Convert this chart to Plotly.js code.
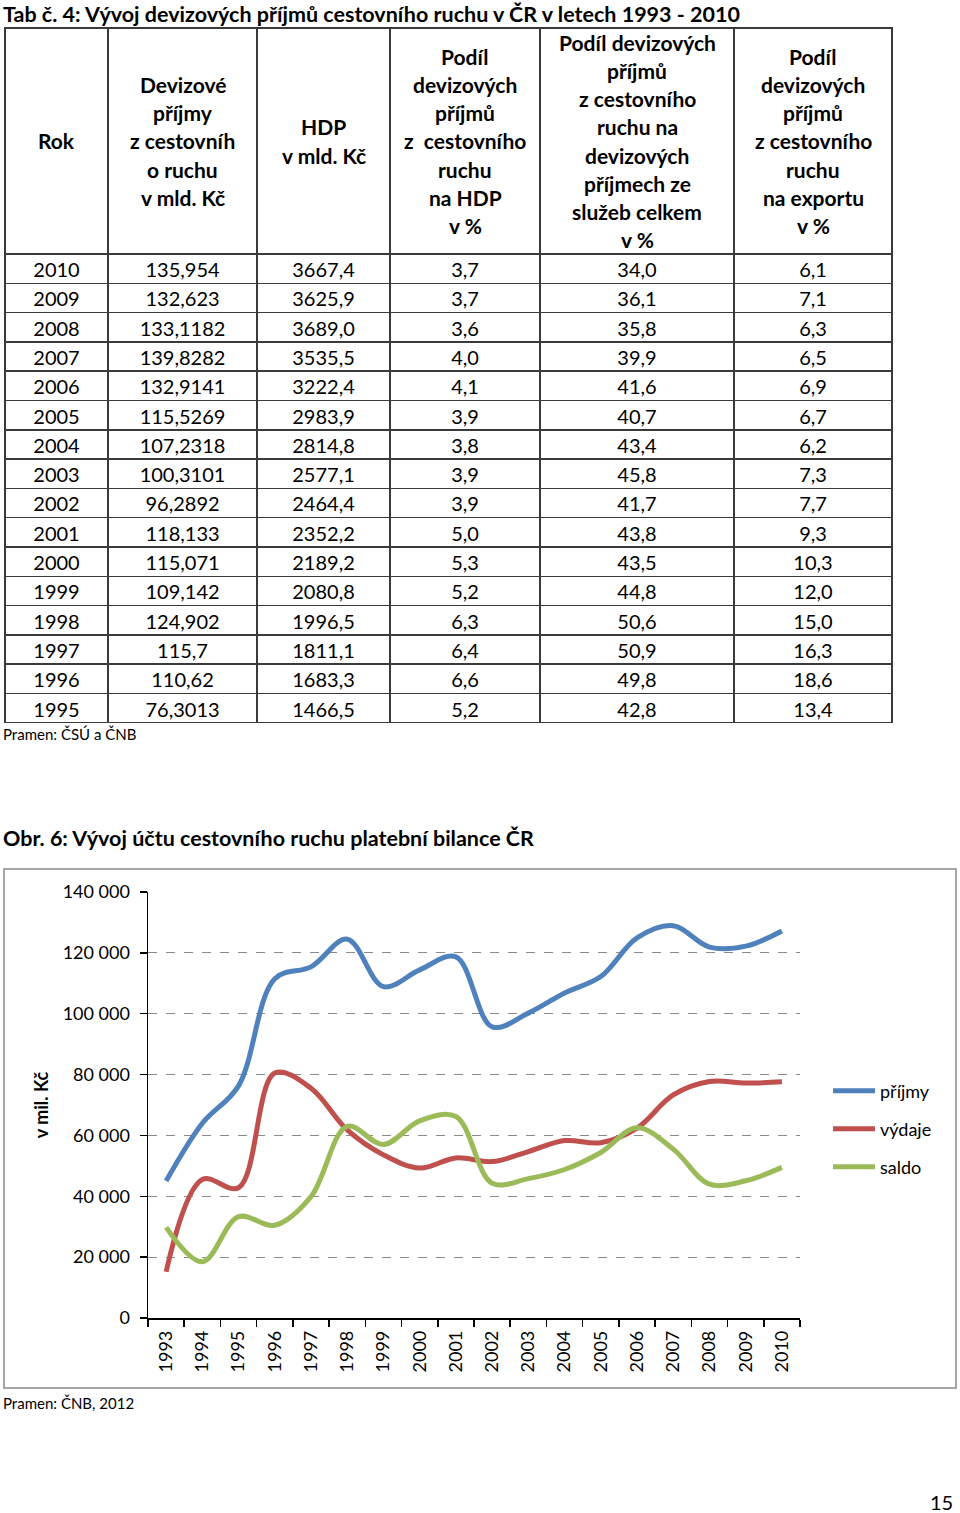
<!DOCTYPE html>
<html>
<head>
<meta charset="utf-8">
<script src="https://cdn.plot.ly/plotly-3.0.1.min.js"></script>
<style>
  html, body { margin: 0; padding: 0; background: #fff; }
  #page { width: 960px; height: 1513px; }
</style>
</head>
<body>
<div id="page"></div>
<script>
// Tabulka: data
var tabRoky = ['2010', '2009', '2008', '2007', '2006', '2005', '2004', '2003', '2002', '2001', '2000', '1999', '1998', '1997', '1996', '1995'];
var tabPrijmy = ['135,954', '132,623', '133,1182', '139,8282', '132,9141', '115,5269', '107,2318', '100,3101', '96,2892', '118,133', '115,071', '109,142', '124,902', '115,7', '110,62', '76,3013'];
var tabHdp = ['3667,4', '3625,9', '3689,0', '3535,5', '3222,4', '2983,9', '2814,8', '2577,1', '2464,4', '2352,2', '2189,2', '2080,8', '1996,5', '1811,1', '1683,3', '1466,5'];
var tabPodilHdp = ['3,7', '3,7', '3,6', '4,0', '4,1', '3,9', '3,8', '3,9', '3,9', '5,0', '5,3', '5,2', '6,3', '6,4', '6,6', '5,2'];
var tabPodilSluzby = ['34,0', '36,1', '35,8', '39,9', '41,6', '40,7', '43,4', '45,8', '41,7', '43,8', '43,5', '44,8', '50,6', '50,9', '49,8', '42,8'];
var tabPodilExport = ['6,1', '7,1', '6,3', '6,5', '6,9', '6,7', '6,2', '7,3', '7,7', '9,3', '10,3', '12,0', '15,0', '16,3', '18,6', '13,4'];

// hlavicka tabulky (radky textu v kazdem sloupci)
var hlavicka = [
  ['Rok'],
  ['Devizové', 'příjmy', 'z cestovníh', 'o ruchu', 'v mld. Kč'],
  ['HDP', 'v mld. Kč'],
  ['Podíl', 'devizových', 'příjmů', 'z  cestovního', 'ruchu', 'na HDP', 'v %'],
  ['Podíl devizových', 'příjmů', 'z cestovního', 'ruchu na', 'devizových', 'příjmech ze', 'služeb celkem', 'v %'],
  ['Podíl', 'devizových', 'příjmů', 'z cestovního', 'ruchu', 'na exportu', 'v %']
];

// Graf: data v mil. Kč
var roky = ['1993', '1994', '1995', '1996', '1997', '1998', '1999', '2000', '2001', '2002', '2003', '2004', '2005', '2006', '2007', '2008', '2009', '2010'];
var prijmy = [45000, 64000, 76300, 111500, 115400, 124500, 108900, 114400, 118700, 95700, 100200, 106800, 112200, 124900, 128900, 121900, 122200, 127200];
var vydaje = [15200, 45500, 42800, 80500, 75500, 61800, 53600, 49300, 52600, 51400, 54700, 58300, 57600, 62400, 73300, 77700, 77200, 77600];
var saldo = [29800, 18500, 33300, 30500, 39900, 63000, 57000, 64800, 66200, 44300, 45800, 48800, 54400, 62500, 55500, 44000, 45100, 49500];

var W = 960, H = 1513;
function px(x) { return x / W; }
function py(y) { return 1 - y / H; }

var font = 'Lato, "Open Sans", sans-serif';

var tabulka = {
  type: 'table',
  domain: { x: [px(5), px(892)], y: [py(724), py(28)] },
  columnwidth: [103, 149, 133, 150, 194, 158],
  header: {
    values: ['', '', '', '', '', ''],
    height: 226,
    line: { color: '#3a3a3a', width: 1.5 },
    fill: { color: '#fff' }
  },
  cells: {
    values: [tabRoky, tabPrijmy, tabHdp, tabPodilHdp, tabPodilSluzby, tabPodilExport],
    height: 29.3,
    align: 'center',
    line: { color: '#3a3a3a', width: 1.5 },
    fill: { color: '#fff' },
    font: { family: font, size: 20, color: '#000' }
  }
};

var tr1 = {
  type: 'scatter', mode: 'lines', x: roky, y: prijmy, name: 'příjmy',
  line: { color: '#4f81bd', width: 5, shape: 'spline', smoothing: 1 },
  legend: 'legend'
};
var tr2 = {
  type: 'scatter', mode: 'lines', x: roky, y: vydaje, name: 'výdaje',
  line: { color: '#c0504d', width: 5, shape: 'spline', smoothing: 1 },
  legend: 'legend2'
};
var tr3 = {
  type: 'scatter', mode: 'lines', x: roky, y: saldo, name: 'saldo',
  line: { color: '#9bbb59', width: 5, shape: 'spline', smoothing: 1 },
  legend: 'legend3'
};

// popisky hlavicky - kazdy radek zvlast
var stredy = [56.5, 182.5, 323.5, 465, 637, 813];
var anotace = [];
hlavicka.forEach(function (radky, i) {
  radky.forEach(function (t, j) {
    anotace.push({
      text: '<b>' + t + '</b>', xref: 'paper', yref: 'paper',
      x: px(stredy[i]), y: py(141 + (j - (radky.length - 1) / 2) * 28.2),
      xanchor: 'center', yanchor: 'middle', showarrow: false,
      font: { family: font, size: 21, color: '#000' }
    });
  });
});

function popis(text, x, y, size, bold, anchor) {
  anotace.push({
    text: bold ? '<b>' + text + '</b>' : text, xref: 'paper', yref: 'paper',
    x: px(x), y: py(y), xanchor: anchor || 'left', yanchor: 'middle', showarrow: false,
    font: { family: font, size: size, color: '#000' }
  });
}
popis('Tab č. 4: Vývoj devizových příjmů cestovního ruchu v ČR v letech 1993 - 2010', 1, 14, 21.5, true);
popis('Pramen: ČSÚ a ČNB', 1, 734, 15, false);
popis('Obr. 6: Vývoj účtu cestovního ruchu platební bilance ČR', 1, 838, 21.5, true);
popis('Pramen: ČNB, 2012', 1, 1403, 15, false);
popis('15', 955, 1502, 20, false, 'right');

function legenda(y) {
  return {
    x: px(828), y: py(y), xanchor: 'left', yanchor: 'middle',
    itemwidth: 42,
    bgcolor: 'rgba(0,0,0,0)', borderwidth: 0,
    font: { family: font, size: 18, color: '#000' }
  };
}

var layout = {
  width: W, height: H,
  margin: { l: 0, r: 0, t: 0, b: 0 },
  paper_bgcolor: '#fff', plot_bgcolor: '#fff',
  separators: ', ',
  font: { family: font, color: '#000' },
  showlegend: true,
  legend: legenda(1091),
  legend2: legenda(1129),
  legend3: legenda(1167),
  xaxis: {
    domain: [px(148), px(800)],
    anchor: 'y',
    type: 'category',
    range: [-0.5, 17.5],
    showline: true, linecolor: '#000', linewidth: 1.5,
    ticks: 'outside', tickson: 'boundaries', ticklen: 7, tickcolor: '#000', tickwidth: 1.5,
    tickangle: -90,
    ticklabelstandoff: 4,
    tickfont: { family: font, size: 18, color: '#000' },
    showgrid: false, zeroline: false
  },
  yaxis: {
    domain: [py(1318), py(892)],
    anchor: 'x',
    range: [0, 140000],
    dtick: 20000,
    tickformat: ',d',
    showline: true, linecolor: '#000', linewidth: 1.5,
    ticks: 'outside', ticklen: 7, tickcolor: '#000', tickwidth: 1.5,
    ticklabelstandoff: 6,
    tickfont: { family: font, size: 18, color: '#000' },
    showgrid: true, gridcolor: '#8a8a8a', gridwidth: 1, griddash: 'dash',
    zeroline: false,
    title: { text: '<b>v mil. Kč</b>', font: { family: font, size: 18, color: '#000' }, standoff: 9 }
  },
  shapes: [{
    type: 'rect', xref: 'paper', yref: 'paper',
    x0: px(4), x1: px(956), y0: py(1388), y1: py(869),
    line: { color: '#a6a6a6', width: 2 }
  }],
  annotations: anotace
};

Plotly.newPlot('page', [tabulka, tr1, tr2, tr3], layout, { staticPlot: true });
</script>
</body>
</html>
